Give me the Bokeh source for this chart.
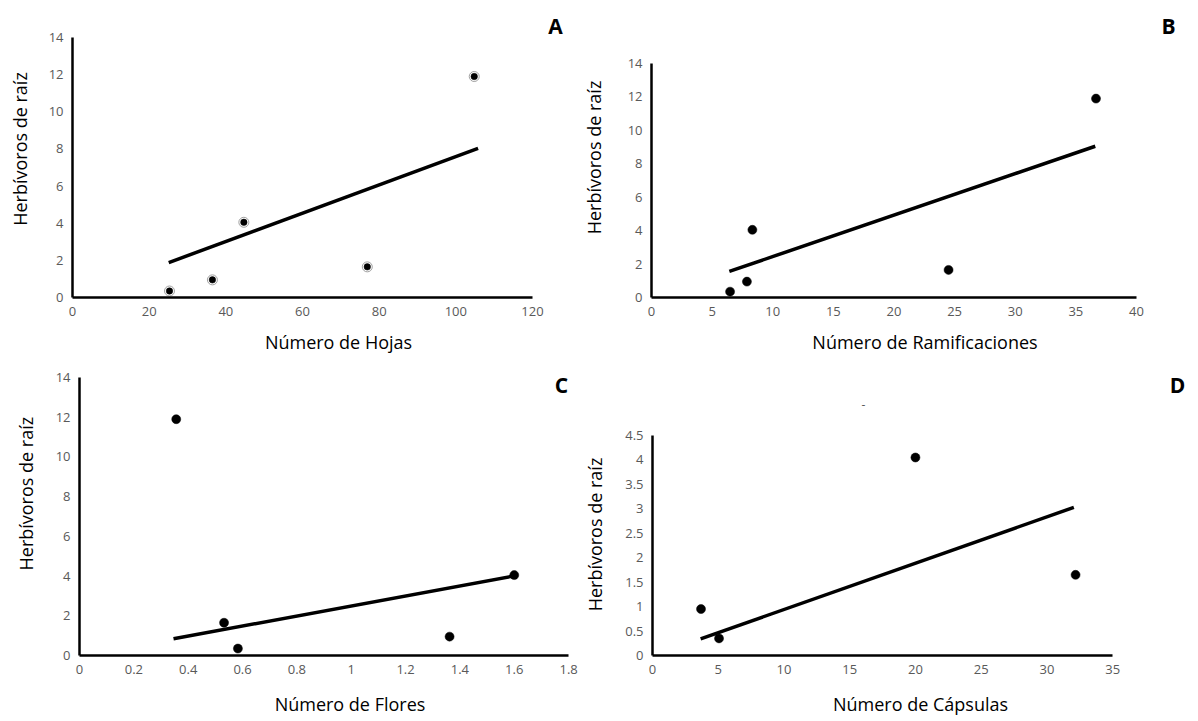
import math
from bokeh.plotting import figure
from bokeh.models import Range1d, FixedTicker, Label, NumeralTickFormatter, Title
from bokeh.layouts import row, column
from bokeh.embed import file_html
from bokeh.resources import INLINE

# ---------------- data ----------------
herbivoros = [0.35, 0.95, 4.05, 1.65, 11.9]
hojas = [25.3, 36.5, 44.7, 76.9, 104.8]
ramificaciones = [6.48, 7.87, 8.32, 24.5, 36.66]
flores = [0.583, 1.362, 1.6, 0.532, 0.356]
herbivoros_capsulas = [0.35, 0.95, 4.05, 1.65]
capsulas = [5.06, 3.69, 20.0, 32.18]

# trend-line end points
tend_hojas_x = [25.1, 105.8]
tend_hojas_y = [1.88, 8.03]
tend_ram_x = [6.42, 36.6]
tend_ram_y = [1.56, 9.05]
tend_flores_x = [0.346, 1.596]
tend_flores_y = [0.84, 4.0]
tend_caps_x = [3.66, 32.05]
tend_caps_y = [0.34, 3.03]

# axis ticks
ticks_hojas = [0, 20, 40, 60, 80, 100, 120]
ticks_ram = [0, 5, 10, 15, 20, 25, 30, 35, 40]
ticks_flores = [0, 0.2, 0.4, 0.6, 0.8, 1.0, 1.2, 1.4, 1.6, 1.8]
ticks_caps = [0, 5, 10, 15, 20, 25, 30, 35]
ticks_herb = [0, 2, 4, 6, 8, 10, 12, 14]
ticks_herb_d = [0, 0.5, 1, 1.5, 2, 2.5, 3, 3.5, 4, 4.5]

Y_TITLE = "Herbívoros de raíz"
FONT = "Open Sans"

ROW1_H = 368
ROW2_H = 721 - ROW1_H


def x_range_for(vmax, p0, p1, f0, f1):
    """value 0 sits at pixel p0, vmax at p1; frame spans pixels f0..f1"""
    k = vmax / (p1 - p0)
    return Range1d((f0 - p0) * k, (f1 - p0) * k)


def y_range_for(vmax, p0, p1, f0, f1):
    """pixels measured from the top: value 0 at p0, vmax at p1; frame bottom f0, top f1"""
    k = vmax / (p0 - p1)
    return Range1d((p0 - f0) * k, (p0 - f1) * k)


def make_panel(w, h, borders, xr, yr, xticks, yticks, xs, ys, tx, ty, xlabel,
               ylabel=None, ringed=False, xl_standoff=11, yl_standoff=14):
    bl, br, bt, bb = borders
    p = figure(width=w, height=h, output_backend="svg", toolbar_location=None,
               x_range=xr, y_range=yr,
               min_border_left=bl, min_border_right=br,
               min_border_top=bt, min_border_bottom=bb)
    p.outline_line_color = None
    p.xgrid.visible = False
    p.ygrid.visible = False
    p.background_fill_color = "white"
    p.border_fill_color = "white"
    p.xaxis.ticker = FixedTicker(ticks=xticks)
    p.yaxis.ticker = FixedTicker(ticks=yticks)
    p.xaxis.bounds = (xticks[0], xticks[-1])
    p.yaxis.bounds = (yticks[0], yticks[-1])
    for ax in (p.xaxis[0], p.yaxis[0]):
        ax.axis_line_color = "black"
        ax.axis_line_width = 2.5
        ax.major_tick_line_color = None
        ax.minor_tick_line_color = None
        ax.major_tick_out = 0
        ax.major_tick_in = 0
        ax.major_label_standoff = 9
        ax.major_label_text_font = FONT
        ax.major_label_text_font_size = "13px"
        ax.major_label_text_color = "#595959"
        ax.formatter = NumeralTickFormatter(format="0.[0]")
        ax.axis_label_text_font = FONT
        ax.axis_label_text_font_size = "18px"
        ax.axis_label_text_font_style = "normal"
        ax.axis_label_text_color = "black"
    p.xaxis.axis_label = xlabel
    p.xaxis.axis_label_standoff = xl_standoff
    if ylabel:
        p.yaxis.axis_label = ylabel
        p.yaxis.axis_label_standoff = yl_standoff

    p.line(tx, ty, line_color="black", line_width=3.5)
    if ringed:
        p.scatter(xs, ys, size=10, fill_color="white", line_color="#a0a0a0", line_width=1)
        p.scatter(xs, ys, size=6.5, fill_color="black", line_color="black", line_width=0.5)
    else:
        p.scatter(xs, ys, size=9, fill_color="black", line_color="black", line_width=0.5)
    return p


def add_text(p, x, y, text, size="18px", bold=False, angle=0.0, color="black"):
    p.add_layout(Label(x=x, y=y, x_units="screen", y_units="screen", text=text,
                       angle=angle, text_align="center", text_baseline="middle",
                       text_font=FONT, text_font_size=size,
                       text_font_style="bold" if bold else "normal",
                       text_color=color))


# ---- top row ----
pA = make_panel(608, ROW1_H, (72, 4, 0, ROW1_H - 297),
                x_range_for(120, 72, 532, 72, 604), y_range_for(14, 297, 37, 297, 0),
                ticks_hojas, ticks_herb, hojas, herbivoros, tend_hojas_x, tend_hojas_y,
                "Número de Hojas", ylabel=Y_TITLE, ringed=True)
pB = make_panel(590, ROW1_H, (43, 0, 0, ROW1_H - 297),
                x_range_for(40, 651, 1136, 651, 1198), y_range_for(14, 297, 63, 297, 0),
                ticks_ram, ticks_herb, ramificaciones, herbivoros, tend_ram_x, tend_ram_y,
                "Número de Ramificaciones")
add_text(pA, 483, 272, "A", size="21px", bold=True)
add_text(pB, 517, 272, "B", size="21px", bold=True)
add_text(pA, 521, 140, Y_TITLE, angle=math.pi / 2)          # y title of panel B

# ---- bottom row ----
pC = make_panel(622, ROW2_H, (78, 2, 0, 66),
                x_range_for(1.8, 78, 568, 78, 620), y_range_for(14, 655, 377, 655, ROW1_H),
                ticks_flores, ticks_herb, flores, herbivoros, tend_flores_x, tend_flores_y,
                "Número de Flores", xl_standoff=15)
pD = make_panel(576, ROW2_H, (29, 10, 0, 66),
                x_range_for(35, 651, 1112, 651, 1188), y_range_for(4.5, 655, 435, 655, ROW1_H),
                ticks_caps, ticks_herb_d, capsulas, herbivoros_capsulas, tend_caps_x, tend_caps_y,
                "Número de Cápsulas", xl_standoff=15)
pC.add_layout(Title(text=Y_TITLE, align="left", offset=85, vertical_align="top", standoff=26,
                    text_font=FONT, text_font_size="18px", text_font_style="normal",
                    text_color="black"), "left")
add_text(pC, 482, 271, "C", size="21px", bold=True)
add_text(pD, 525, 271, "D", size="21px", bold=True)
add_text(pD, 211, 251, "-", size="12px", color="#595959")
add_text(pC, 515, 121, Y_TITLE, angle=math.pi / 2)          # y title of panel D

layout = column(row(pA, pB), row(pC, pD))
open("out.html", "w").write(file_html(layout, INLINE))
